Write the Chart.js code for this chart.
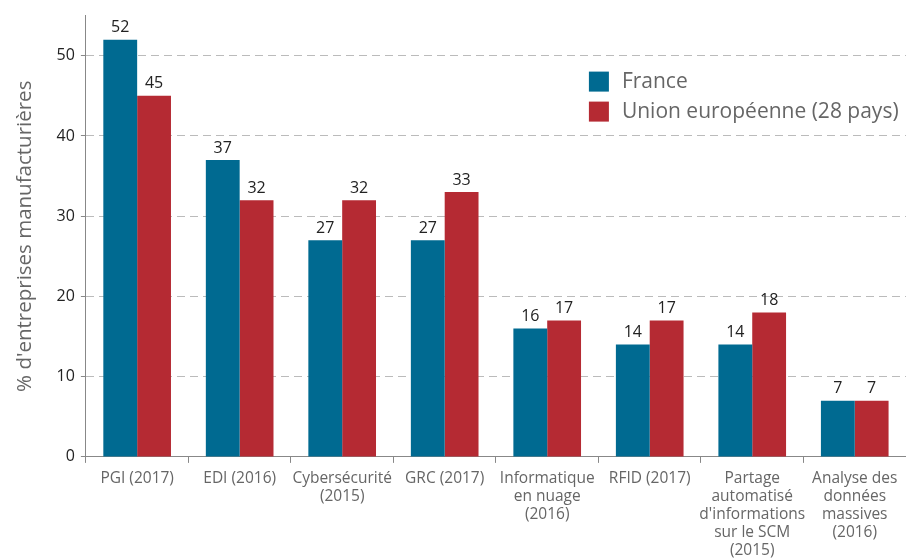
<!DOCTYPE html>
<html>
<head>
<meta charset="utf-8">
<script src="https://cdn.jsdelivr.net/npm/chart.js@4/dist/chart.umd.min.js"></script>
<style>
  html, body { margin: 0; padding: 0; background: #fff; }
  #wrap { width: 906px; height: 559px; position: relative; }
</style>
</head>
<body>
<div id="wrap"><canvas id="chart"></canvas></div>
<script>
const categories = [
  'PGI (2017)',
  'EDI (2016)',
  ['Cybersécurité', '(2015)'],
  'GRC (2017)',
  ['Informatique', 'en nuage', '(2016)'],
  'RFID (2017)',
  ['Partage', 'automatisé', "d'informations", 'sur le SCM', '(2015)'],
  ['Analyse des', 'données', 'massives', '(2016)']
];
const france = [52, 37, 27, 27, 16, 14, 14, 7];
const ue28 = [45, 32, 32, 33, 17, 17, 18, 7];
const seriesNames = ['France', 'Union européenne (28 pays)'];
const yTitle = "% d'entreprises manufacturières";

const colors = { france: '#006a91', ue: '#b52a33' };
const fontFamily = "'Open Sans', 'Noto Sans', sans-serif";

// values above each bar
const barLabels = {
  id: 'barLabels',
  afterDatasetsDraw(chart) {
    const ctx = chart.ctx;
    ctx.save();
    ctx.font = '16px ' + fontFamily;
    ctx.fillStyle = '#222';
    ctx.textAlign = 'center';
    ctx.textBaseline = 'bottom';
    chart.data.datasets.forEach((ds, i) => {
      chart.getDatasetMeta(i).data.forEach((bar, j) => {
        ctx.fillText(ds.data[j], bar.x, bar.y - 4);
      });
    });
    ctx.restore();
  }
};

// legend inside the plot, top right
const innerLegend = {
  id: 'innerLegend',
  afterDraw(chart) {
    const ctx = chart.ctx;
    const x = chart.chartArea.left + 503;
    let y = chart.chartArea.top + 56;
    ctx.save();
    ctx.font = '21px ' + fontFamily;
    ctx.textBaseline = 'middle';
    chart.data.datasets.forEach((ds) => {
      ctx.fillStyle = ds.backgroundColor;
      ctx.fillRect(x, y, 20, 20);
      ctx.fillStyle = '#666';
      ctx.fillText(ds.label, x + 33, y + 10);
      y += 30;
    });
    ctx.restore();
  }
};

new Chart(document.getElementById('chart'), {
  type: 'bar',
  data: {
    labels: categories,
    datasets: [
      { label: seriesNames[0], data: france, backgroundColor: colors.france },
      { label: seriesNames[1], data: ue28, backgroundColor: colors.ue }
    ]
  },
  options: {
    responsive: true,
    maintainAspectRatio: false,
    animation: false,
    layout: { padding: { left: 9, top: 13, right: 0, bottom: -7 } },
    datasets: { bar: { categoryPercentage: 0.66, barPercentage: 1 } },
    plugins: {
      legend: { display: false },
      tooltip: { enabled: false }
    },
    scales: {
      x: {
        grid: { display: true, drawOnChartArea: false, tickLength: 6, color: '#888', offset: true },
        border: { color: '#888', width: 1 },
        ticks: { color: '#666', font: { family: fontFamily, size: 15.5, lineHeight: 1.15 }, maxRotation: 0, autoSkip: false, padding: 7 }
      },
      y: {
        min: 0,
        max: 55,
        grid: {
          color: (c) => (c.tick && c.tick.value === 0 ? 'rgba(0,0,0,0)' : '#bbb'),
          tickColor: '#888',
          tickLength: 5
        },
        border: { color: '#888', width: 1, dash: [8, 5] },
        ticks: { stepSize: 10, includeBounds: false, color: '#222', font: { family: fontFamily, size: 16 }, padding: 6 },
        title: { display: true, text: yTitle, color: '#666', font: { family: fontFamily, size: 20.5 }, padding: { bottom: 13 } }
      }
    }
  },
  plugins: [barLabels, innerLegend]
});
</script>
</body>
</html>
